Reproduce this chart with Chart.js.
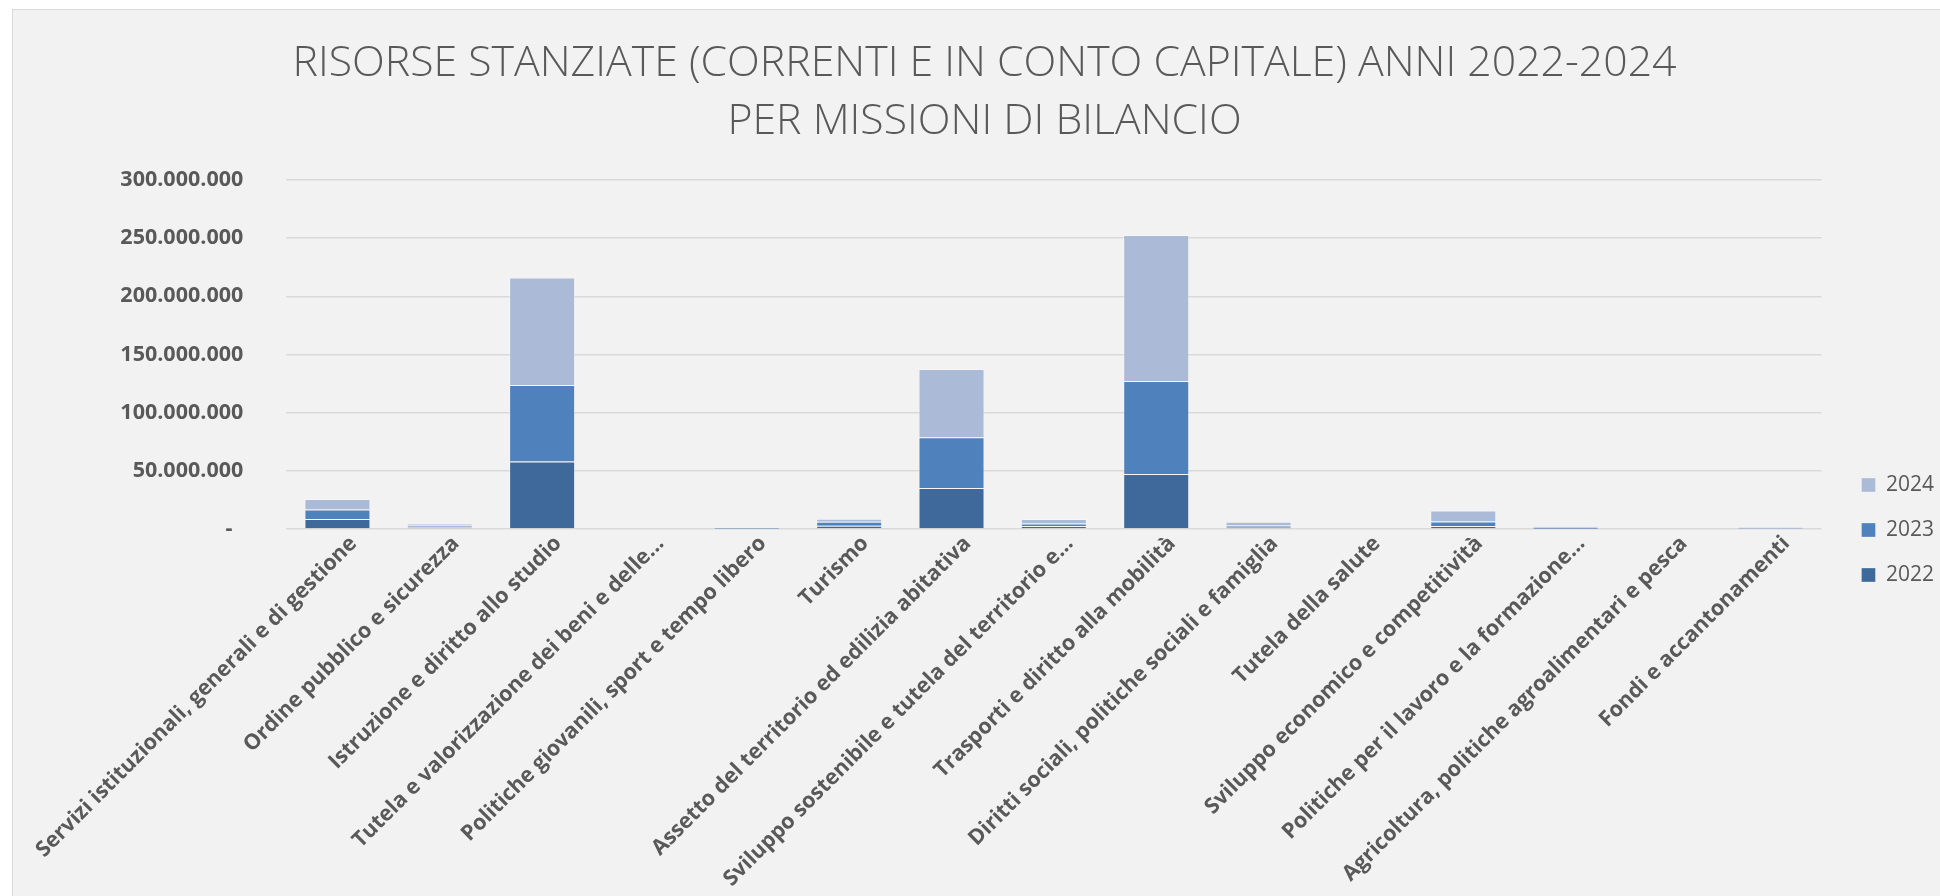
<!DOCTYPE html>
<html>
<head>
<meta charset="utf-8">
<script src="https://cdn.jsdelivr.net/npm/chart.js@4"></script>
<style>
    html, body { margin: 0; padding: 0; background: #ffffff; overflow: hidden; }
    #panel {
        position: absolute;
        left: 12px;
        top: 9px;
        width: 1927px;
        height: 886px;
        background: #f2f2f2;
        border-left: 1px solid #d9d9d9;
        border-top: 1px solid #d9d9d9;
    }
</style>
</head>
<body>
<div id="panel">
    <canvas id="missioniChart" width="1927" height="886"></canvas>
</div>
<script>
// Missioni di bilancio (labels as shown on the axis, Excel truncates the long ones)
const missioni = [
    'Servizi istituzionali, generali e di gestione',
    'Ordine pubblico e sicurezza',
    'Istruzione e diritto allo studio',
    'Tutela e valorizzazione dei beni e delle...',
    'Politiche giovanili, sport e tempo libero',
    'Turismo',
    'Assetto del territorio ed edilizia abitativa',
    'Sviluppo sostenibile e tutela del territorio e...',
    'Trasporti e diritto alla mobilità',
    'Diritti sociali, politiche sociali e famiglia',
    'Tutela della salute',
    'Sviluppo economico e competitività',
    'Politiche per il lavoro e la formazione...',
    'Agricoltura, politiche agroalimentari e pesca',
    'Fondi e accantonamenti'
];

// risorse stanziate in euro
const risorse2022 = [8600000, 1400000, 58000000, 0, 300000, 2900000, 35200000, 2600000, 47200000, 1000000, 0, 2600000, 300000, 0, 0];
const risorse2023 = [8200000, 1700000, 65800000, 0, 900000, 3400000, 43700000, 2200000, 80000000, 2100000, 0, 3900000, 1400000, 0, 300000];
const risorse2024 = [8900000, 1400000, 92300000, 0, 200000, 2500000, 58600000, 3800000, 125500000, 3200000, 0, 9500000, 300000, 0, 1500000];

const yMax = 300000000;
const yStep = 50000000;

const titolo = [
    'RISORSE STANZIATE (CORRENTI E IN CONTO CAPITALE) ANNI 2022-2024',
    'PER MISSIONI DI BILANCIO'
];

const grigioTesto = '#595959';

// 300000000 -> 300.000.000, zero shown as a dash like Excel accounting format
function formatEuro(value) {
    if (value === 0) {
        return '-\u2002';
    }
    return String(Math.round(value)).replace(/\B(?=(\d{3})+(?!\d))/g, '.');
}

// moves the legend right/down, next to the bottom of the plot like the original
const legendOffset = {
    id: 'legendOffset',
    afterLayout: function (chart) {
        chart.legend.left += 16;
        chart.legend.right += 16;
        chart.legend.top += 77;
        chart.legend.bottom += 77;
    }
};

let ctx = document.getElementById('missioniChart').getContext('2d');
let chart = new Chart(ctx, {
    type: 'bar',
    data: {
        labels: missioni,
        datasets: [{
            label: '2022',
            data: risorse2022,
            backgroundColor: '#3e699a',
            borderColor: 'rgba(255, 255, 255, 0.3)',
            borderWidth: 1
        },
        {
            label: '2023',
            data: risorse2023,
            backgroundColor: '#4f81bd',
            borderColor: 'rgba(255, 255, 255, 0.3)',
            borderWidth: 1
        },
        {
            label: '2024',
            data: risorse2024,
            backgroundColor: '#abbad7',
            borderColor: 'rgba(255, 255, 255, 0.3)',
            borderWidth: 1
        }]
    },
    options: {
        responsive: false,
        animation: false,
        layout: {
            padding: { left: 28, right: 12, top: 0, bottom: 0 }
        },
        datasets: {
            bar: {
                barPercentage: 0.645,
                categoryPercentage: 1
            }
        },
        plugins: {
            title: {
                display: true,
                text: titolo,
                color: grigioTesto,
                font: { family: "'Open Sans', sans-serif", size: 42.8, weight: '350', lineHeight: 1.355 },
                padding: { top: 25, bottom: 29 }
            },
            legend: {
                position: 'right',
                reverse: true,
                labels: {
                    boxWidth: 14,
                    boxHeight: 14,
                    padding: 24,
                    color: grigioTesto,
                    font: { family: "'Open Sans', sans-serif", size: 21 }
                }
            },
            tooltip: { enabled: false }
        },
        scales: {
            x: {
                stacked: true,
                grid: { display: false, drawTicks: false },
                border: { display: false },
                ticks: {
                    autoSkip: false,
                    minRotation: 45,
                    maxRotation: 45,
                    padding: 2,
                    labelOffset: 16,
                    color: grigioTesto,
                    font: { family: "'Open Sans', sans-serif", size: 21.5, weight: 'bold' }
                },
                afterFit: function (scale) {
                    scale.height = 367;
                }
            },
            y: {
                stacked: true,
                min: 0,
                max: yMax,
                grid: { color: '#d9d9d9', lineWidth: 1.5, drawTicks: false },
                border: { display: false },
                ticks: {
                    stepSize: yStep,
                    padding: 43,
                    color: grigioTesto,
                    font: { family: "'Open Sans', sans-serif", size: 21.5, weight: 'bold' },
                    callback: function (value) {
                        return formatEuro(value);
                    }
                },
                afterFit: function (scale) {
                    scale.width = 239;
                }
            }
        }
    },
    plugins: [legendOffset]
});
</script>
</body>
</html>
